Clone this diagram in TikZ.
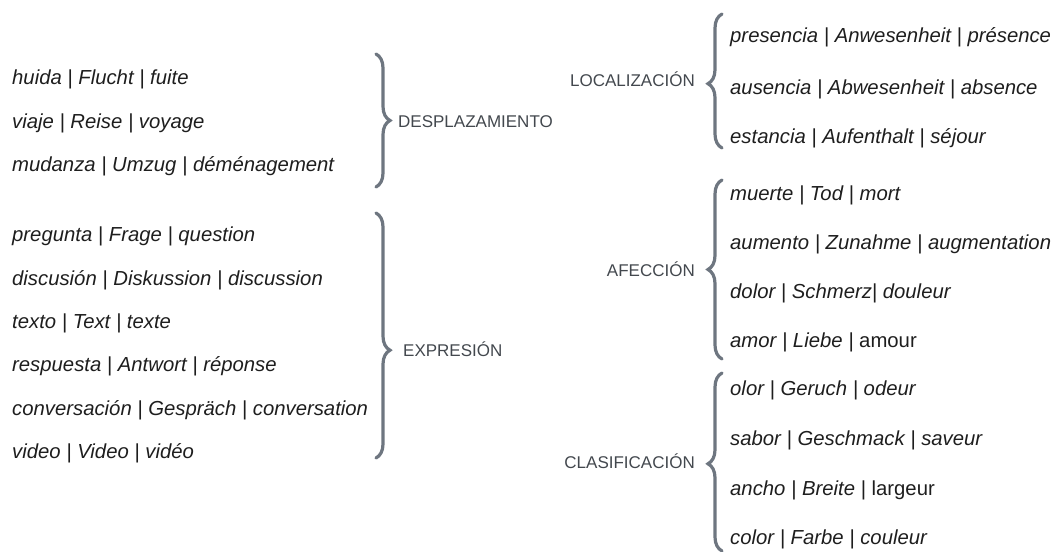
\documentclass[tikz,border=0pt]{standalone}
\usepackage{fontspec}
\setmainfont{Liberation Sans}
\usetikzlibrary{decorations.pathreplacing}
\definecolor{wordgray}{HTML}{1E1E1E}
\definecolor{labelgray}{HTML}{43484E}
\definecolor{bracegray}{HTML}{6E7680}
\tikzset{
  word/.style={anchor=base west, inner sep=0pt, text=wordgray, font=\fontsize{20.3}{24}\selectfont\itshape},
  lbl/.style={inner sep=0pt, text=labelgray, font=\fontsize{17}{20}\selectfont},
  curly/.style={draw=bracegray, line width=3.2pt, line cap=round, decorate, decoration={brace, amplitude=14pt, aspect=#1}},
  curly/.default=0.5
}
\begin{document}
\begin{tikzpicture}[x=1pt, y=-1pt]
    \useasboundingbox (0,0) rectangle (1059,551);

    % left column
    \node[word] (huida) at (12,84) {huida | Flucht | fuite};
    \node[word] (viaje) at (12,128) {viaje | Reise | voyage};
    \node[word] (mudanza) at (12,171) {mudanza | Umzug | déménagement};

    \node[word] (pregunta) at (12,241) {pregunta | Frage | question};
    \node[word] (discusion) at (12,285) {discusión | Diskussion | discussion};
    \node[word] (texto) at (12,328) {texto | Text | texte};
    \node[word] (respuesta) at (12,371) {respuesta | Antwort | réponse};
    \node[word] (conversacion) at (12,415) {conversación | Gespräch | conversation};
    \node[word] (video) at (12,458) {video | Video | vidéo};

    \coordinate (desp top) at (376,54);
    \coordinate (desp bot) at (376,187);
    \draw[curly] (desp top) -- (desp bot);
    \node[lbl, anchor=base west] (desplazamiento) at (398,127) {DESPLAZAMIENTO};

    \coordinate (expr top) at (376,213);
    \coordinate (expr bot) at (376,458);
    \draw[curly=0.56] (expr top) -- (expr bot);
    \node[lbl, anchor=base west] (expresion) at (403,356) {EXPRESIÓN};

    % right column
    \node[word] (presencia) at (730,42) {presencia | Anwesenheit | présence};
    \node[word] (ausencia) at (730,94) {ausencia | Abwesenheit | absence};
    \node[word] (estancia) at (730,143) {estancia | Aufenthalt | séjour};

    \node[word] (muerte) at (730,200) {muerte | Tod | mort};
    \node[word] (aumento) at (730,249) {aumento | Zunahme | augmentation};
    \node[word] (dolor) at (730,298) {dolor | Schmerz| douleur};
    \node[word] (amor) at (730,347) {amor | Liebe | \upshape amour};

    \node[word] (olor) at (730,395) {olor | Geruch | odeur};
    \node[word] (sabor) at (730,445) {sabor | Geschmack | saveur};
    \node[word] (ancho) at (730,495) {ancho | Breite | \upshape largeur};
    \node[word] (color) at (730,544) {color | Farbe | couleur};

    \coordinate (loc top) at (722,14);
    \coordinate (loc bot) at (722,148);
    \draw[curly=0.48] (loc bot) -- (loc top);
    \node[lbl, anchor=base east] (localizacion) at (695,86) {LOCALIZACIÓN};

    \coordinate (afec top) at (722,180);
    \coordinate (afec bot) at (722,359);
    \draw[curly=0.5] (afec bot) -- (afec top);
    \node[lbl, anchor=base east] (afeccion) at (695,276) {AFECCIÓN};

    \coordinate (clas top) at (722,373);
    \coordinate (clas bot) at (722,551);
    \draw[curly=0.49] (clas bot) -- (clas top);
    \node[lbl, anchor=base east] (clasificacion) at (695,468) {CLASIFICACIÓN};
\end{tikzpicture}
\end{document}
